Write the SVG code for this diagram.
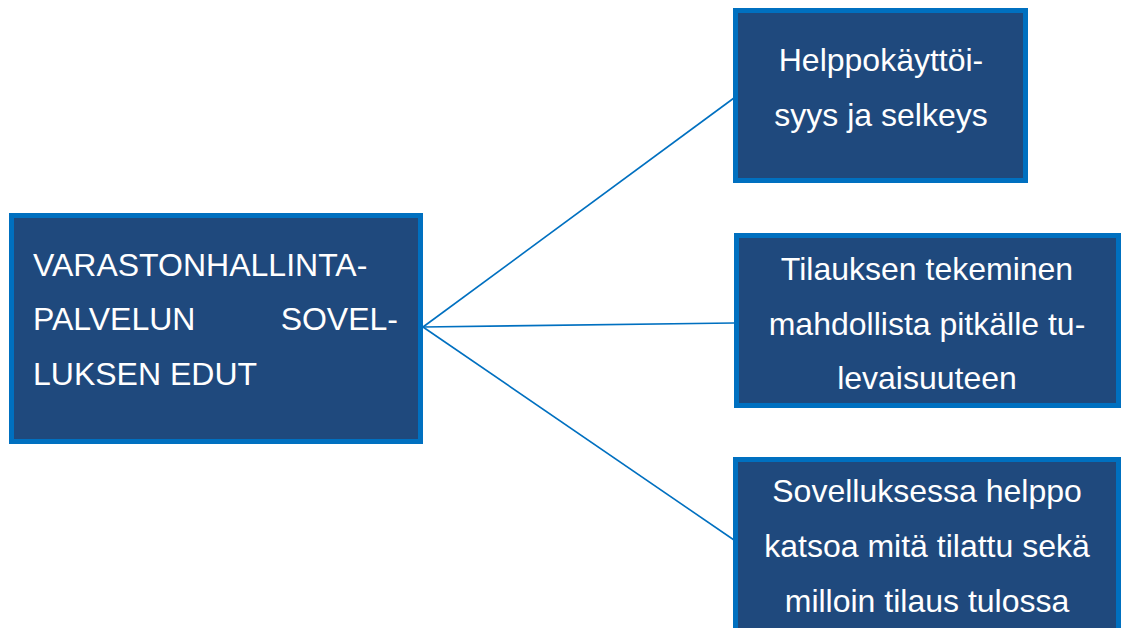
<svg xmlns="http://www.w3.org/2000/svg" width="1122" height="628" viewBox="0 0 1122 628">
<style>
.box{fill:#1F497D;stroke:#0070C0;stroke-width:5}
.t{font-family:"Liberation Sans",Arial,sans-serif;font-size:32px;fill:#FFFFFF}
.c{text-anchor:middle}
.con{stroke:#0070C0;stroke-width:1.6;fill:none}
</style>
<rect width="1122" height="628" fill="#FFFFFF"/>
<g id="connectors">
<line class="con" x1="423" y1="327" x2="734" y2="98"/>
<line class="con" x1="423" y1="327" x2="734" y2="323"/>
<line class="con" x1="423" y1="327" x2="734" y2="540"/>
</g>
<g id="main">
<rect class="box" x="11.5" y="215.5" width="409" height="226"/>
<text class="t" x="33" y="276">VARASTONHALLINTA-</text>
<text class="t" x="33" y="330">PALVELUN</text>
<text class="t" x="398" y="330" text-anchor="end">SOVEL-</text>
<text class="t" x="33" y="385">LUKSEN EDUT</text>
</g>
<g id="n1">
<rect class="box" x="735.5" y="10.5" width="290" height="170"/>
<text class="t c" x="881" y="71">Helppokäyttöi-</text>
<text class="t c" x="881" y="126">syys ja selkeys</text>
</g>
<g id="n2">
<rect class="box" x="736.5" y="235.5" width="382" height="170"/>
<text class="t c" x="927" y="280">Tilauksen tekeminen</text>
<text class="t c" x="927" y="335">mahdollista pitkälle tu-</text>
<text class="t c" x="927" y="389">levaisuuteen</text>
</g>
<g id="n3">
<rect class="box" x="735.5" y="459.5" width="383" height="200"/>
<text class="t c" x="927" y="502">Sovelluksessa helppo</text>
<text class="t c" x="927" y="557">katsoa mitä tilattu sekä</text>
<text class="t c" x="927" y="612">milloin tilaus tulossa</text>
</g>
</svg>
